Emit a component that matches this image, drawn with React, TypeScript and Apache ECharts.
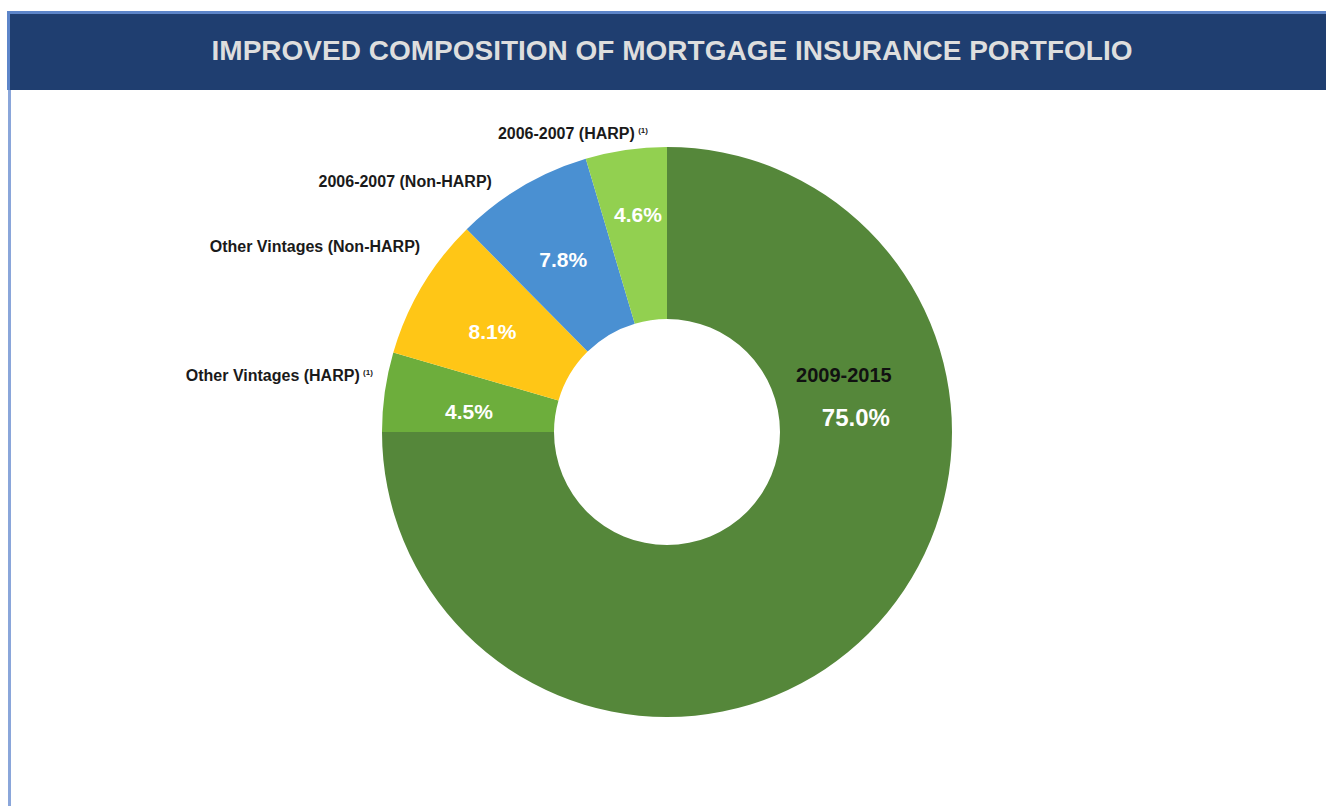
import React, { useEffect, useRef } from "react";
import * as echarts from "echarts";

const titleText = "IMPROVED COMPOSITION OF MORTGAGE INSURANCE PORTFOLIO";
const categories = [
  "2009-2015",
  "Other Vintages (HARP)",
  "Other Vintages (Non-HARP)",
  "2006-2007 (Non-HARP)",
  "2006-2007 (HARP)",
];
const footnoted = [false, true, false, false, true];
const values = [75.0, 4.5, 8.1, 7.8, 4.6];
const colors = ["#55873A", "#6DAE3C", "#FFC616", "#4A90D2", "#92D050"];

// label nudges (style only)
const nameNudge = [
  [0, 0],
  [-7, -16],
  [3, -40],
  [-25, -5],
  [27, -16],
];
const pctNudge = [
  [34, -178],
  [2, 8],
  [-1, 3],
  [-1, 1],
  [0, -18],
];

export default function App() {
  const ref = useRef<HTMLDivElement>(null);
  useEffect(() => {
    if (!ref.current) return;
    const chart = echarts.init(ref.current, null, { renderer: "svg" });
    const center = [667, 432];
    const radius = [113, 285];
    const font = "'Liberation Sans', Arial, sans-serif";
    const data = categories.map((c, i) => ({
      name: c,
      value: values[i],
      itemStyle: { color: colors[i] },
    }));
    chart.setOption({
      animation: false,
      backgroundColor: "#ffffff",
      graphic: [
        { type: "rect", shape: { x: 8, y: 90, width: 3, height: 716 }, style: { fill: "#8AA6DA" } },
        { type: "rect", shape: { x: 7, y: 11, width: 1319, height: 79 }, style: { fill: "#1F3E70" } },
        { type: "rect", shape: { x: 7, y: 11, width: 1319, height: 3 }, style: { fill: "#5D85C9" } },
        { type: "rect", shape: { x: 7, y: 11, width: 3, height: 79 }, style: { fill: "#5D85C9" } },
        {
          type: "text",
          x: 672,
          y: 50,
          style: {
            text: titleText,
            fill: "#DEDEDE",
            font: `bold 28px ${font}`,
            align: "center",
            verticalAlign: "middle",
          },
        },
      ],
      series: [
        {
          type: "pie",
          center,
          radius,
          startAngle: 90,
          clockwise: true,
          avoidLabelOverlap: false,
          silent: true,
          data: data.map((d, i) => ({
            ...d,
            label:
              i === 0
                ? {
                    formatter: (p: any) => `{n|${p.name}}\n{p|${p.value.toFixed(1)}%}`,
                  }
                : {},
          })),
          label: {
            show: true,
            position: "inside",
            formatter: (p: any) => `${p.value.toFixed(1)}%`,
            color: "#ffffff",
            fontFamily: font,
            fontWeight: "bold",
            fontSize: 21,
            rich: {
              n: { fontSize: 20, fontWeight: "bold", color: "#111111", lineHeight: 42, fontFamily: font },
              p: { fontSize: 24, fontWeight: "bold", color: "#ffffff", lineHeight: 44, fontFamily: font, padding: [0, 0, 0, 24] },
            },
          },
          labelLine: { show: false },
          labelLayout: (p: any) => ({ dx: pctNudge[p.dataIndex][0], dy: pctNudge[p.dataIndex][1] }),
        },
        {
          type: "pie",
          center,
          radius,
          startAngle: 90,
          clockwise: true,
          avoidLabelOverlap: false,
          silent: true,
          itemStyle: { color: "rgba(0,0,0,0)" },
          data: categories.map((c, i) => ({
            name: c,
            value: values[i],
            itemStyle: { color: "rgba(0,0,0,0)" },
            label: { show: i !== 0 },
          })),
          label: {
            show: true,
            position: "outside",
            alignTo: "none",
            distanceToLabelLine: 5,
            formatter: (p: any) =>
              footnoted[p.dataIndex] ? `{t|${p.name}} {s|(1)}` : `{t|${p.name}}`,
            rich: {
              t: { fontSize: 16, fontWeight: "bold", color: "#1A1A1A", fontFamily: font },
              s: { fontSize: 8, fontWeight: "bold", color: "#1A1A1A", fontFamily: font, padding: [0, 0, 6, 0] },
            },
          },
          labelLine: { show: false, length: 0, length2: 0 },
          labelLayout: (p: any) => ({ dx: nameNudge[p.dataIndex][0], dy: nameNudge[p.dataIndex][1] }),
        },
      ],
    });
    return () => chart.dispose();
  }, []);
  return (
    <div
      ref={ref}
      style={{ position: "fixed", left: 0, top: 0, width: 1326, height: 806 }}
    />
  );
}
